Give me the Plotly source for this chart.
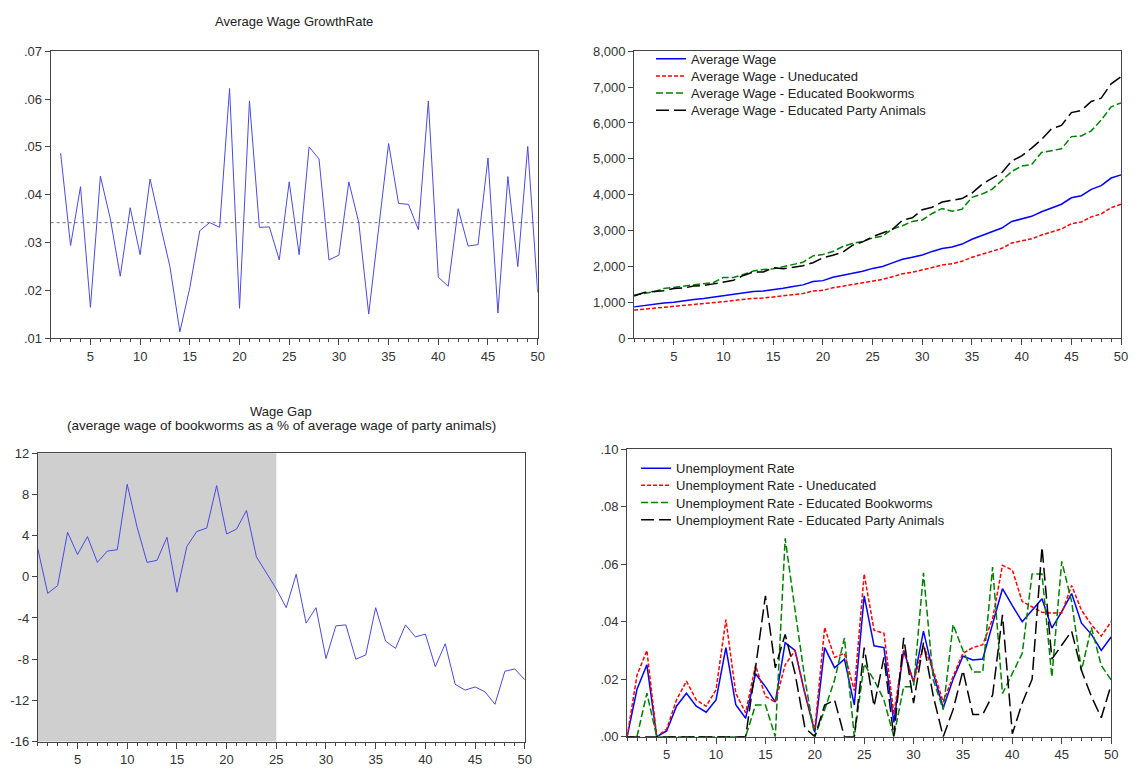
import plotly.graph_objects as go
import numpy as np

# ---- data -------------------------------------------------------------
periods = list(range(1, 51))
growth_periods = list(range(2, 51))

wage_growth = [0.0487, 0.0294, 0.0417, 0.0165, 0.0439, 0.0350, 0.0230, 0.0373, 0.0275,
               0.0433, 0.0340, 0.0250, 0.0114, 0.0206, 0.0325, 0.0342, 0.0332, 0.0622,
               0.0163, 0.0596, 0.0332, 0.0333, 0.0264, 0.0427, 0.0275, 0.0500, 0.0475,
               0.0264, 0.0274, 0.0427, 0.0342, 0.0151, 0.0330, 0.0507, 0.0382, 0.0380,
               0.0327, 0.0596, 0.0228, 0.0209, 0.0371, 0.0293, 0.0296, 0.0477, 0.0153,
               0.0438, 0.0250, 0.0501, 0.0196]

avg_wage = [880, 923, 950, 990, 1006, 1050, 1087, 1112, 1153, 1185,
            1236, 1278, 1310, 1325, 1352, 1396, 1444, 1492, 1585, 1611,
            1707, 1764, 1823, 1871, 1951, 2005, 2105, 2205, 2263, 2325,
            2424, 2507, 2545, 2629, 2762, 2868, 2977, 3074, 3257, 3331,
            3401, 3527, 3630, 3738, 3916, 3976, 4150, 4254, 4467, 4555]

wage_uneducated = [790, 815, 840, 870, 885, 915, 945, 965, 1000, 1025,
                   1060, 1090, 1115, 1125, 1150, 1180, 1220, 1255, 1320, 1340,
                   1410, 1455, 1500, 1540, 1600, 1645, 1720, 1800, 1845, 1900,
                   1975, 2045, 2080, 2150, 2260, 2345, 2430, 2510, 2660, 2720,
                   2775, 2880, 2960, 3050, 3195, 3245, 3385, 3470, 3640, 3740]

wage_bookworms = [1210, 1260, 1300, 1390, 1420, 1460, 1480, 1510, 1560, 1700,
                  1700, 1780, 1880, 1920, 1940, 2000, 2060, 2120, 2300, 2340,
                  2420, 2560, 2650, 2700, 2800, 2850, 3050, 3140, 3260, 3300,
                  3480, 3620, 3540, 3600, 3930, 4020, 4150, 4400, 4650, 4800,
                  4840, 5180, 5230, 5280, 5620, 5640, 5780, 6080, 6450, 6560]

wage_party = [1180, 1280, 1310, 1330, 1390, 1405, 1460, 1475, 1520, 1560,
              1620, 1755, 1850, 1850, 1970, 1940, 1975, 2025, 2110, 2245,
              2315, 2405, 2600, 2690, 2835, 2940, 3040, 3290, 3360, 3585,
              3655, 3800, 3850, 3895, 4050, 4290, 4460, 4615, 4940, 5085,
              5300, 5540, 5840, 5930, 6290, 6350, 6600, 6690, 7090, 7290]

wage_gap = [2.73, -1.6, -0.86, 4.32, 2.16, 3.9, 1.4, 2.5, 2.63, 8.98,
            4.8, 1.4, 1.6, 3.84, -1.5, 2.95, 4.4, 4.73, 8.86, 4.16,
            4.63, 6.44, 1.94, 0.35, -1.17, -3.0, 0.25, -4.5, -3.0, -7.94,
            -4.76, -4.67, -8.0, -7.59, -3.0, -6.25, -6.95, -4.67, -5.84, -5.56,
            -8.73, -6.5, -10.44, -11.0, -10.7, -11.17, -12.38, -9.17, -8.95, -10.0]
shaded_until = 25

unemp = [0, 0.0165, 0.025, 0, 0.002, 0.0106, 0.0151, 0.0106, 0.0085, 0.0128,
         0.031, 0.0111, 0.0064, 0.0219, 0.0174, 0.012, 0.0327, 0.030, 0.015, 0.0015,
         0.031, 0.024, 0.027, 0.011, 0.049, 0.0316, 0.031, 0.005, 0.030, 0.019,
         0.0367, 0.022, 0.010, 0.020, 0.028, 0.0267, 0.027, 0.0395, 0.0515, 0.0456,
         0.040, 0.044, 0.048, 0.0378, 0.0435, 0.0498, 0.0395, 0.0356, 0.030, 0.0347]

unemp_uneducated = [0, 0.0214, 0.030, 0, 0.0026, 0.0128, 0.0193, 0.0128, 0.0106, 0.0163,
                    0.0407, 0.0151, 0.0083, 0.0248, 0.014, 0.012, 0.025, 0.030, 0.015, 0.0025,
                    0.038, 0.0276, 0.029, 0.016, 0.0566, 0.037, 0.036, 0.008, 0.030, 0.019,
                    0.0316, 0.023, 0.012, 0.021, 0.029, 0.031, 0.032, 0.041, 0.0596, 0.058,
                    0.047, 0.045, 0.0433, 0.043, 0.043, 0.0526, 0.044, 0.039, 0.035, 0.040]

unemp_bookworms = [0, 0, 0.0151, 0, 0, 0, 0, 0, 0, 0,
                   0, 0, 0, 0.011, 0.011, 0, 0.069, 0.044, 0.02, 0,
                   0.0094, 0.0197, 0.0344, 0, 0.0253, 0.0197, 0.0128, 0, 0.0174, 0.0174,
                   0.057, 0.0197, 0.0094, 0.039, 0.030, 0.0225, 0.0225, 0.059, 0.015, 0.022,
                   0.029, 0.0566, 0.0566, 0.0208, 0.061, 0.047, 0.023, 0.038, 0.0248, 0.0197]

unemp_party = [0, 0, 0, 0, 0, 0, 0, 0, 0, 0,
               0, 0, 0, 0.024, 0.049, 0.024, 0.0356, 0.022, 0.003, 0,
               0.011, 0.0128, 0, 0, 0.031, 0.0106, 0.0276, 0, 0.0344, 0.0117,
               0.0327, 0.014, 0, 0.0094, 0.023, 0.0077, 0.0077, 0.0145, 0.0424, 0.001,
               0.0117, 0.020, 0.066, 0.027, 0.032, 0.0367, 0.023, 0.014, 0.0066, 0.018]

# ---- styling ----------------------------------------------------------
W, H = 1140, 778
FONT = "Liberation Sans, Arial, sans-serif"
SOFT_BLUE = "#4a4ae0"
AXIS_COL = "#444444"
TEXT_COL = "#333333"
TICK_SIZE = 13
LEGEND_SIZE = 13


def xdom(left, right):
    return [left / W, right / W]


def ydom(top, bottom):
    return [1 - bottom / H, 1 - top / H]


def x_axis(domain, anchor):
    return dict(domain=domain, anchor=anchor, range=[1, 50],
                showline=True, linecolor=AXIS_COL, linewidth=1, mirror=True,
                ticks="outside", ticklen=6, tickcolor=AXIS_COL,
                tickmode="linear", tick0=0, dtick=5,
                minor=dict(ticks="outside", ticklen=3, tickcolor=AXIS_COL, dtick=1, tick0=0),
                showgrid=False, zeroline=False,
                tickfont=dict(family=FONT, size=TICK_SIZE, color=TEXT_COL))


def y_axis(domain, anchor, rng, vals, text):
    return dict(domain=domain, anchor=anchor, range=rng,
                showline=True, linecolor=AXIS_COL, linewidth=1, mirror=True,
                ticks="outside", ticklen=5, tickcolor=AXIS_COL,
                tickmode="array", tickvals=vals, ticktext=text,
                showgrid=False, zeroline=False,
                tickfont=dict(family=FONT, size=TICK_SIZE, color=TEXT_COL))


fig = go.Figure()

# Panel 1: growth rate
fig.add_trace(go.Scatter(x=growth_periods, y=wage_growth, mode="lines",
                         line=dict(color=SOFT_BLUE, width=1),
                         xaxis="x", yaxis="y", showlegend=False))

# Panel 2: wage levels
wage_series = [
    ("Average Wage", avg_wage, "#0000ff", "solid"),
    ("Average Wage - Uneducated", wage_uneducated, "#ff0000", "4px,2px"),
    ("Average Wage - Educated Bookworms", wage_bookworms, "#008000", "7px,3px"),
    ("Average Wage - Educated Party Animals", wage_party, "#000000", "13px,5px"),
]
# Panel 4: unemployment
unemp_series = [
    ("Unemployment Rate", unemp, "#0000ff", "solid"),
    ("Unemployment Rate - Uneducated", unemp_uneducated, "#ff0000", "4px,2px"),
    ("Unemployment Rate - Educated Bookworms", unemp_bookworms, "#008000", "7px,3px"),
    ("Unemployment Rate - Educated Party Animals", unemp_party, "#000000", "13px,5px"),
]

# one legend box per entry so the rows can sit tightly together
legend_style = dict(xanchor="left", yanchor="top", bgcolor="rgba(0,0,0,0)",
                    borderwidth=0, itemwidth=30,
                    font=dict(family=FONT, size=LEGEND_SIZE, color="#222222"))
legend_layout = {}
ROW_OFFSET = 20  # legend top to first row centre
panel_specs = [
    (wage_series, "x2", "y2", 655, [57.5, 75, 92.5, 110], 0),
    (unemp_series, "x4", "y4", 640, [475, 492.5, 510, 527.5], 4),
]
for series, xa, ya, lx, rows, start in panel_specs:
    for i, (name, vals, col, dash) in enumerate(series):
        key = "legend" if start + i == 0 else f"legend{start + i + 1}"
        fig.add_trace(go.Scatter(x=periods, y=vals, mode="lines", name=name,
                                 line=dict(color=col, width=1.5, dash=dash),
                                 xaxis=xa, yaxis=ya, legend=key))
        legend_layout[key] = dict(x=lx / W, y=1 - (rows[i] - ROW_OFFSET) / H, **legend_style)

# Panel 3: wage gap
fig.add_trace(go.Scatter(x=periods, y=wage_gap, mode="lines",
                         line=dict(color=SOFT_BLUE, width=1),
                         xaxis="x3", yaxis="y3", showlegend=False))

mean_growth = float(np.mean(wage_growth))

fig.update_layout(
    width=W, height=H,
    margin=dict(l=0, r=0, t=0, b=0),
    paper_bgcolor="white", plot_bgcolor="white",
    xaxis=x_axis(xdom(51, 541), "y"),
    yaxis=y_axis(ydom(45, 338), "x", [0.01, 0.07],
                 [0.01, 0.02, 0.03, 0.04, 0.05, 0.06, 0.07],
                 [".01", ".02", ".03", ".04", ".05", ".06", ".07"]),
    xaxis2=x_axis(xdom(638, 1128), "y2"),
    yaxis2=y_axis(ydom(45, 338), "x2", [0, 8000],
                  list(range(0, 8001, 1000)),
                  [f"{v:,}" for v in range(0, 8001, 1000)]),
    xaxis3=x_axis(xdom(38, 528), "y3"),
    yaxis3=y_axis(ydom(455, 749), "x3", [-16, 12],
                  list(range(-16, 13, 4)),
                  [str(v) for v in range(-16, 13, 4)]),
    xaxis4=x_axis(xdom(631, 1118), "y4"),
    yaxis4=y_axis(ydom(451, 744), "x4", [0, 0.10],
                  [0, 0.02, 0.04, 0.06, 0.08, 0.10],
                  [".00", ".02", ".04", ".06", ".08", ".10"]),
    shapes=[
        dict(type="line", xref="x", yref="y", x0=1, x1=50,
             y0=mean_growth, y1=mean_growth,
             line=dict(color="#777777", width=1, dash="dot"), layer="below"),
        dict(type="rect", xref="x3", yref="y3 domain", x0=1, x1=shaded_until,
             y0=0, y1=1, fillcolor="#cfcfcf", line=dict(width=0), layer="below"),
    ],
    annotations=[
        dict(text="Average Wage GrowthRate", xref="paper", yref="paper",
             x=296 / W, y=1 - 15 / H, xanchor="center", yanchor="middle",
             showarrow=False, font=dict(family=FONT, size=13, color="#222222")),
        dict(text="Wage Gap", xref="paper", yref="paper",
             x=283 / W, y=1 - 412 / H, xanchor="center", yanchor="middle",
             showarrow=False, font=dict(family=FONT, size=13, color="#222222")),
        dict(text="(average wage of bookworms as a % of average wage of party animals)",
             xref="paper", yref="paper",
             x=283 / W, y=1 - 427 / H, xanchor="center", yanchor="middle",
             showarrow=False, font=dict(family=FONT, size=13.5, color="#222222")),
    ],
)
fig.update_layout(**legend_layout)

fig.write_html("out.html")
